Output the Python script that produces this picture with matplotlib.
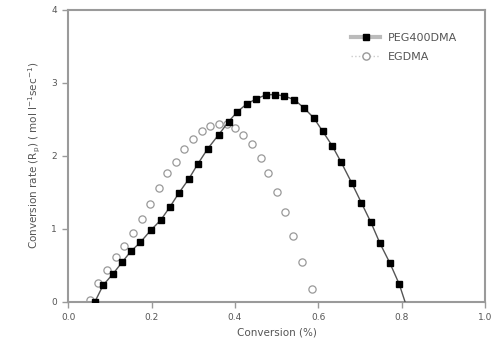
import numpy as np
import matplotlib
matplotlib.use("Agg")
import matplotlib.pyplot as plt
from matplotlib.lines import Line2D

# PEG400DMA (filled squares, joined by a line)
peg_x = [0.064, 0.084, 0.107, 0.129, 0.150, 0.173, 0.198, 0.222, 0.244, 0.266, 0.289,
         0.311, 0.335, 0.361, 0.385, 0.405, 0.428, 0.451, 0.474, 0.496, 0.518, 0.542,
         0.565, 0.589, 0.610, 0.633, 0.655, 0.680, 0.703, 0.726, 0.748, 0.772, 0.794, 0.808]
peg_y = [0.00, 0.23, 0.38, 0.54, 0.69, 0.815, 0.98, 1.12, 1.30, 1.495, 1.68,
         1.89, 2.10, 2.29, 2.47, 2.60, 2.71, 2.78, 2.835, 2.84, 2.82, 2.77,
         2.66, 2.52, 2.34, 2.14, 1.91, 1.63, 1.36, 1.09, 0.80, 0.527, 0.243, 0.00]

# EGDMA (open circles)
eg_x = [0.052, 0.072, 0.092, 0.114, 0.134, 0.155, 0.176, 0.197, 0.218, 0.238, 0.258,
        0.278, 0.299, 0.320, 0.341, 0.361, 0.381, 0.400, 0.420, 0.440, 0.462, 0.480,
        0.500, 0.521, 0.540, 0.562, 0.584]
eg_y = [0.02, 0.26, 0.435, 0.61, 0.765, 0.95, 1.14, 1.34, 1.555, 1.77, 1.92,
        2.095, 2.23, 2.34, 2.415, 2.44, 2.43, 2.38, 2.29, 2.16, 1.97, 1.77,
        1.505, 1.225, 0.90, 0.54, 0.175]

xticks = [0.0, 0.2, 0.4, 0.6, 0.8, 1.0]
yticks = [0, 1, 2, 3, 4]

grey = "#9a9a9a"
txt = "#555555"

fig = plt.figure(figsize=(4.94, 3.51), dpi=100)
ax = fig.add_axes([0.138, 0.140, 0.844, 0.832])

ax.plot(peg_x, peg_y, color="#555555", lw=1.0, marker="s", ms=4.5,
        mfc="black", mec="black", markevery=slice(0, -1), zorder=3)
ax.plot(eg_x, eg_y, ls="none", marker="o", ms=5.2, mfc="white",
        mec="#999999", mew=0.9, zorder=2)

ax.set_xlim(0, 1.0)
ax.set_ylim(0, 4)
ax.set_xticks(xticks)
ax.set_xticklabels(["%.1f" % v for v in xticks])
ax.set_yticks(yticks)

for s in ax.spines.values():
    s.set_color(grey)
    s.set_linewidth(1.5)
ax.tick_params(direction="out", length=4, width=1, color=grey,
               labelsize=6.5, labelcolor=txt, pad=4)

ax.set_xlabel("Conversion (%)", fontsize=7.5, color=txt, labelpad=4)
ax.set_ylabel(r"Conversion rate (R$_{\mathrm{p}}$) ( mol l$^{-1}$sec$^{-1}$)",
              fontsize=7.5, color=txt, labelpad=6)

handles = [
    Line2D([], [], color="#bbbbbb", lw=3, marker="s", ms=4.5, mfc="black", mec="black"),
    Line2D([], [], color="#cccccc", lw=1, ls=":", marker="o", ms=5.2, mfc="white", mec="#999999"),
]
ax.legend(handles, ["PEG400DMA", "EGDMA"], loc="upper left",
          bbox_to_anchor=(0.655, 0.955), frameon=False, fontsize=8,
          labelcolor=txt, handlelength=2.6, handletextpad=0.7, labelspacing=0.8)

fig.savefig("out.png", dpi=100)
